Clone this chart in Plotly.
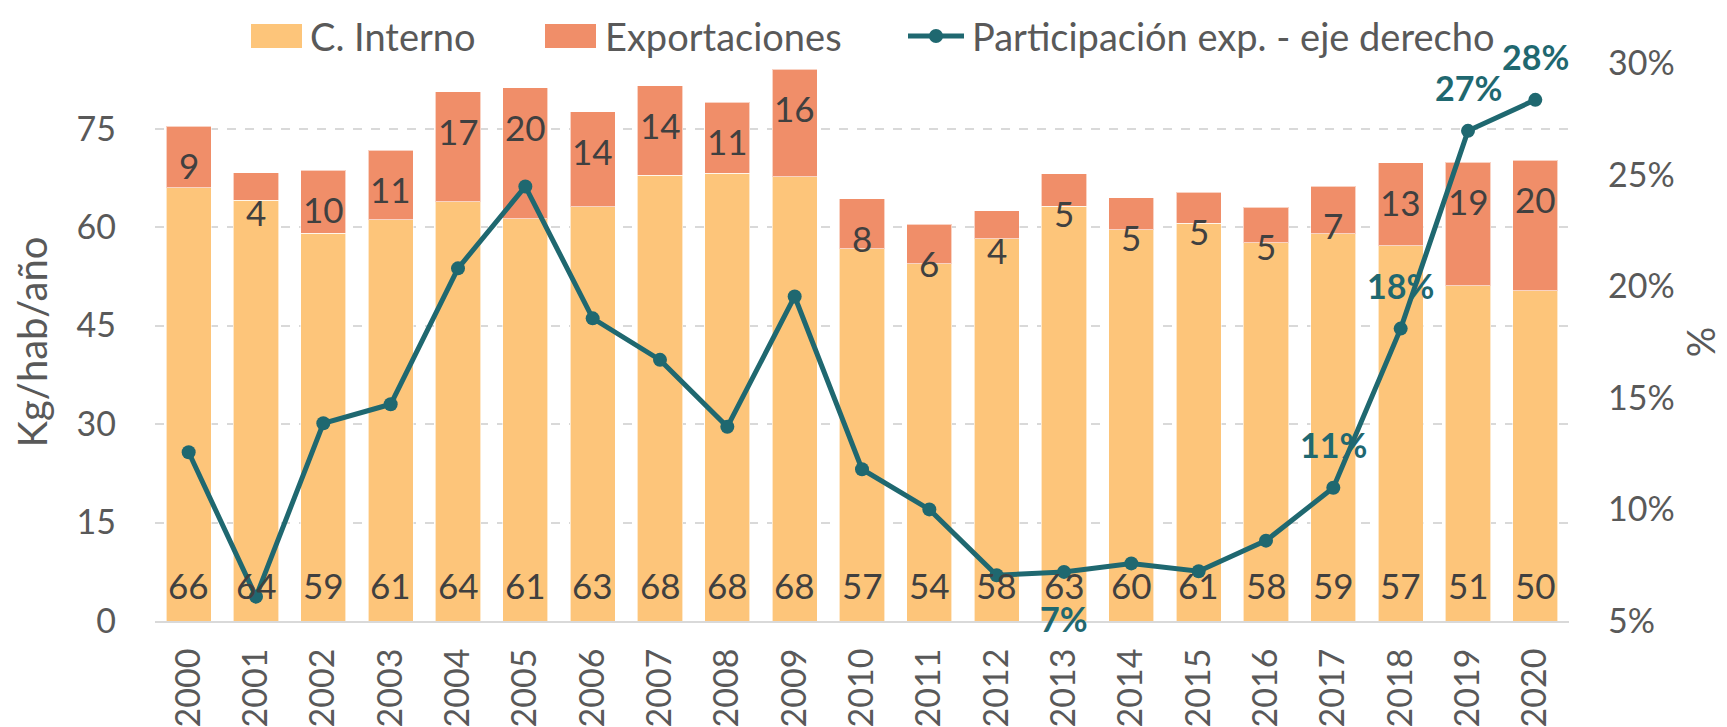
import plotly.graph_objects as go

# ---------------- data ----------------
years = [str(y) for y in range(2000, 2021)]
interno = [66.0, 64.1, 59.1, 61.1, 63.9, 61.3, 63.1, 67.9, 68.2, 67.7, 56.7,
           54.4, 58.2, 63.15, 59.6, 60.6, 57.6, 59.0, 57.2, 51.1, 50.3]
exportaciones = [9.4, 4.2, 9.6, 10.6, 16.75, 19.9, 14.45, 13.6, 10.8, 16.35, 7.6,
                 6.0, 4.3, 4.95, 4.9, 4.7, 5.4, 7.2, 12.6, 18.8, 19.9]
participacion = [12.56, 6.09, 13.86, 14.71, 20.8, 24.47, 18.56, 16.7, 13.7, 19.54, 11.8,
                 10.0, 7.05, 7.2, 7.58, 7.23, 8.6, 10.97, 18.1, 26.96, 28.35]
# which participation points carry a label, and on which side
pct_label_side = {"2013": "below", "2017": "above", "2018": "above",
                  "2019": "above", "2020": "above"}
left_ticks = [0, 15, 30, 45, 60, 75]
right_ticks = [5, 10, 15, 20, 25, 30]
legend_names = ["C. Interno", "Exportaciones", "Participación exp. - eje derecho"]

# ---------------- style ----------------
C_INT = "#FDC57A"
C_EXP = "#F08E69"
C_LINE = "#1F6870"
C_TXT = "#404040"
C_TICK = "#595959"
C_GRID = "#D9D9D9"
FONT = "Lato"

W, H = 1727, 727
ML, MR, MT, MB = 147, 166, 55, 114
PW, PH = W - ML - MR, H - MT - MB


def px_x(p):  # pixel -> paper x
    return (p - ML) / PW


def px_y(p):  # pixel (from top) -> paper y
    return (H - MB - p) / PH


def rnd(v):
    return int(v + 0.5)


fig = go.Figure()

fig.add_trace(go.Bar(
    x=years, y=interno, name=legend_names[0], showlegend=False,
    marker=dict(color=C_INT, line=dict(color="rgba(255,255,255,0.6)", width=1)),
    hoverinfo="skip",
))
fig.add_trace(go.Bar(
    x=years, y=exportaciones, name=legend_names[1], showlegend=False,
    marker=dict(color=C_EXP, line=dict(color="rgba(255,255,255,0.6)", width=1)),
    hoverinfo="skip",
))
fig.add_trace(go.Scatter(
    x=years, y=participacion, name=legend_names[2], showlegend=False,
    yaxis="y2", mode="lines+markers",
    line=dict(color=C_LINE, width=5),
    marker=dict(color=C_LINE, size=14),
    hoverinfo="skip", cliponaxis=False,
))

annotations = []
# interno labels: inside base
for idx, v in enumerate(interno):
    annotations.append(dict(
        x=idx, y=0, xref="x", yref="y", text=f"{rnd(v)}", showarrow=False,
        yanchor="middle", yshift=36,
        font=dict(family=FONT, size=35, color=C_TXT),
    ))
# export labels: inside end of the stacked bar
for idx, (i, e) in enumerate(zip(interno, exportaciones)):
    annotations.append(dict(
        x=idx, y=i + e, xref="x", yref="y", text=f"{rnd(e)}", showarrow=False,
        yanchor="middle", yshift=-39,
        font=dict(family=FONT, size=35, color=C_TXT),
    ))
# participation labels
for idx, (yr, v) in enumerate(zip(years, participacion)):
    side = pct_label_side.get(yr)
    if side is None:
        continue
    annotations.append(dict(
        x=idx, y=v, xref="x", yref="y2", text=f"<b>{rnd(v)}%</b>", showarrow=False,
        yanchor="middle", yshift=43 if side == "above" else -47,
        font=dict(family=FONT, size=34, color=C_LINE),
    ))

# ---------------- custom legend (Excel style keys) ----------------
shapes = []
LEG_CY = 28
key_boxes = [(243, 294, C_INT), (537, 588, C_EXP)]
text_x = [300, 595, 962]
for x0, x1, col in key_boxes:
    shapes.append(dict(type="rect", xref="paper", yref="paper",
                       x0=px_x(x0), x1=px_x(x1), y0=px_y(LEG_CY + 12), y1=px_y(LEG_CY - 12),
                       fillcolor=col, line=dict(width=0), layer="above"))
shapes.append(dict(type="line", xref="paper", yref="paper",
                   x0=px_x(900), x1=px_x(956), y0=px_y(LEG_CY), y1=px_y(LEG_CY),
                   line=dict(color=C_LINE, width=5), layer="above"))
shapes.append(dict(type="circle", xref="paper", yref="paper",
                   x0=px_x(928 - 7), x1=px_x(928 + 7), y0=px_y(LEG_CY + 7), y1=px_y(LEG_CY - 7),
                   fillcolor=C_LINE, line=dict(width=0), layer="above"))
for name, tx in zip(legend_names, text_x):
    annotations.append(dict(
        x=px_x(tx), y=px_y(LEG_CY), xref="paper", yref="paper", text=name,
        showarrow=False, xanchor="left", yanchor="middle",
        font=dict(family=FONT, size=38, color=C_TICK),
    ))

fig.update_layout(
    width=W, height=H,
    margin=dict(l=ML, r=MR, t=MT, b=MB, autoexpand=False),
    paper_bgcolor="white", plot_bgcolor="white",
    barmode="stack", bargap=0.33,
    font=dict(family=FONT, size=34, color=C_TICK),
    showlegend=False,
    xaxis=dict(type="category", range=[-0.5, len(years) - 0.5],
               tickangle=-90, showline=True, linecolor=C_GRID,
               linewidth=2, ticks="", showgrid=False, ticklabelstandoff=12,
               tickfont=dict(family=FONT, size=34, color=C_TICK)),
    yaxis=dict(range=[0, 85], tickvals=left_ticks, showgrid=True,
               gridcolor=C_GRID, gridwidth=2, griddash="dash", zeroline=False,
               showline=False, ticks="", ticklabelstandoff=38,
               tickfont=dict(family=FONT, size=34, color=C_TICK),
               title=dict(text="Kg/hab/año", standoff=23,
                          font=dict(family=FONT, size=40, color=C_TICK))),
    yaxis2=dict(range=[5, 30], tickvals=right_ticks,
                ticktext=[f"{v}%" for v in right_ticks],
                overlaying="y", side="right", showgrid=False, zeroline=False,
                showline=False, ticks="", ticklabelstandoff=38,
                tickfont=dict(family=FONT, size=34, color=C_TICK),
                title=dict(text="%", standoff=14,
                           font=dict(family=FONT, size=38, color=C_TICK))),
    shapes=shapes,
    annotations=annotations,
)

fig.write_html("out.html")
